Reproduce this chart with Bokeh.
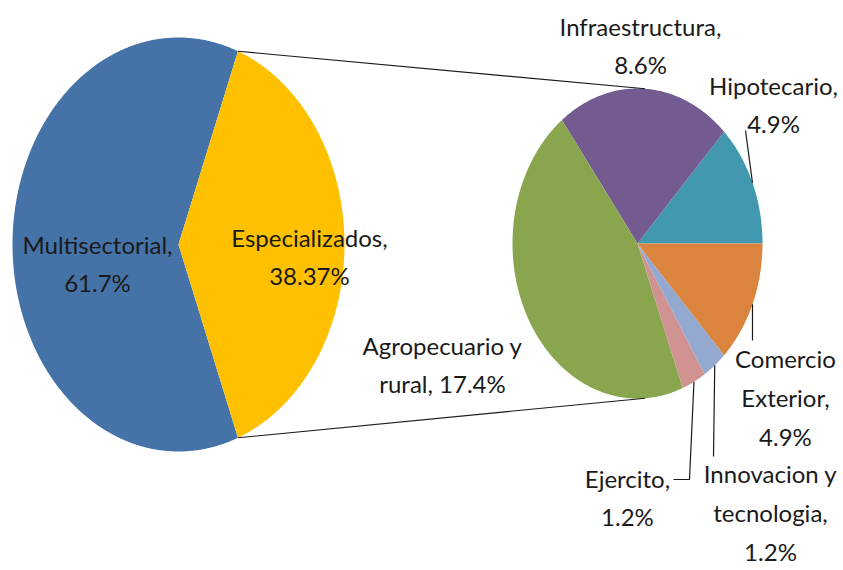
import textwrap
import numpy as np
from bokeh.plotting import figure
from bokeh.models import Range1d, ColumnDataSource
from bokeh.core.properties import value
from bokeh.embed import file_html
from bokeh.resources import INLINE

# ---------------- data ----------------
main_categories = ["Multisectorial", "Especializados"]
main_values = [61.7, 38.37]
main_colors = ["#4572A7", "#FFC000"]

# breakdown of "Especializados", counter-clockwise from 3 o'clock
sub_categories = ["Hipotecario", "Infraestructura", "Agropecuario y rural",
                  "Ejercito", "Innovacion y tecnologia", "Comercio Exterior"]
sub_values = [4.9, 8.6, 17.4, 1.2, 1.2, 4.9]
sub_colors = ["#4198AF", "#735A91", "#89A54E", "#D19392", "#93A9CF", "#DB843D"]

# ---------------- layout (screen pixels) ----------------
W, H = 843, 570
X0, Y0 = 0, 0
main_c, main_r = (178, 244), (166, 207)
sub_c, sub_r = (637, 243), (125, 155)

main_wrap = [15, 15]
main_label_pos = [(97, 263), (309, 256)]
sub_wrap = [15, 16, 14, 12, 12, 12]
sub_label_pos = [(773, 104), (640, 45), (442, 364), (627, 497), (770, 512), (785, 397)]
# leader line end points (None = no leader)
sub_leader_end = [[(745, 130)], None, None, [(689, 479), (673, 479)],
                  [(713, 456)], [(752, 340)]]

FONT = value("Lato")
FONT_SIZE = "24px"

p = figure(width=W, height=H, output_backend="svg", toolbar_location=None,
           x_range=Range1d(X0, X0 + W), y_range=Range1d(Y0 + H, Y0),
           min_border=0, outline_line_color=None, background_fill_color="white")
p.axis.visible = False
p.grid.visible = False


def ell_pt(c, r, ang_deg):
    a = np.radians(ang_deg)
    return c[0] + r[0] * np.cos(a), c[1] - r[1] * np.sin(a)


def wedge_poly(c, r, a0, a1):
    angs = np.linspace(a0, a1, max(4, int(abs(a1 - a0) * 2) + 2))
    xs = [c[0]] + list(c[0] + r[0] * np.cos(np.radians(angs)))
    ys = [c[1]] + list(c[1] - r[1] * np.sin(np.radians(angs)))
    return xs, ys


def wrap(name, v, w):
    return "\n".join(textwrap.wrap(f"{name}, {v}%", width=w, break_long_words=False))


# ---- main pie: "Especializados" centred on 3 o'clock ----
tot = sum(main_values)
half = main_values[1] / tot * 180.0
main_angles = [(half, 360 - half), (-half, half)]
mx, my = [], []
for a0, a1 in main_angles:
    xs, ys = wedge_poly(main_c, main_r, a0, a1)
    mx.append(xs)
    my.append(ys)
p.patches(xs="xs", ys="ys", fill_color="color", line_color=None,
          source=ColumnDataSource(dict(xs=mx, ys=my, color=main_colors)))

# ---- secondary pie ----
stot = sum(sub_values)
sx, sy, mids = [], [], []
a = 0.0
for v in sub_values:
    span = v / stot * 360.0
    xs, ys = wedge_poly(sub_c, sub_r, a, a + span)
    sx.append(xs)
    sy.append(ys)
    mids.append(a + span / 2)
    a += span
p.patches(xs="xs", ys="ys", fill_color="color", line_color=None,
          source=ColumnDataSource(dict(xs=sx, ys=sy, color=sub_colors)))

# ---- connector lines ----
top_main = ell_pt(main_c, main_r, half)
bot_main = ell_pt(main_c, main_r, -half)
top_sub = ell_pt(sub_c, sub_r, 86.5)
bot_sub = ell_pt(sub_c, sub_r, -86.5)
p.multi_line(xs=[[top_main[0], top_sub[0]], [bot_main[0], bot_sub[0]]],
             ys=[[top_main[1], top_sub[1]], [bot_main[1], bot_sub[1]]],
             line_color="#1a1a1a", line_width=1.1)

# ---- leader lines ----
lx, ly = [], []
for mid, ends in zip(mids, sub_leader_end):
    if not ends:
        continue
    st = ell_pt(sub_c, sub_r, mid)
    lx.append([st[0]] + [e[0] for e in ends])
    ly.append([st[1]] + [e[1] for e in ends])
p.multi_line(xs=lx, ys=ly, line_color="#1a1a1a", line_width=1.2)

# ---- labels ----
texts = [wrap(n, v, w) for n, v, w in zip(main_categories, main_values, main_wrap)]
texts += [wrap(n, v, w) for n, v, w in zip(sub_categories, sub_values, sub_wrap)]
pos = main_label_pos + sub_label_pos
p.text(x=[q[0] for q in pos], y=[q[1] for q in pos], text=texts,
       text_font=FONT, text_font_size=FONT_SIZE, text_color="#1a1a1a",
       text_align="center", text_baseline="middle", text_line_height=1.34)

open("out.html", "w").write(file_html(p, INLINE))
